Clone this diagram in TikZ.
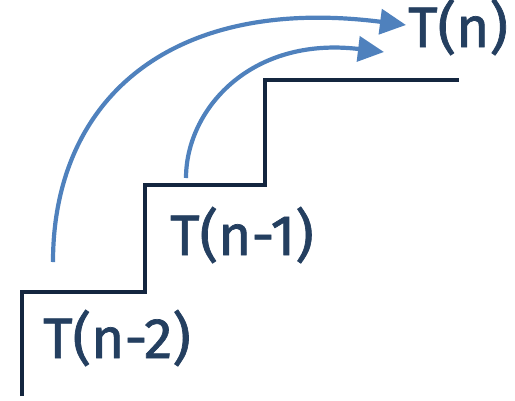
\documentclass[tikz,border=0pt]{standalone}
\usepackage{fontspec}
\setmainfont[FakeBold=1.2]{Fira Sans}
\usetikzlibrary{arrows.meta}
\definecolor{stairc}{HTML}{14263F}
\definecolor{textc}{HTML}{243F60}
\definecolor{arrowc}{HTML}{4F81BD}
\tikzset{
  stairline/.style={draw=stairc,line width=4.5pt,line join=miter,line cap=butt},
  jump/.style={draw=arrowc,line width=4.2pt,-{Triangle[length=26pt,width=25pt]}},
  lbl/.style={text=textc,font=\fontsize{57}{57}\selectfont,inner sep=0pt,anchor=base west}
}
\begin{document}
\begin{tikzpicture}[x=1pt,y=-1pt]
\useasboundingbox (0,0) rectangle (515,400);
\coordinate (s0) at (22,396);
\coordinate (s1) at (22,292);
\coordinate (s2) at (145,292);
\coordinate (s3) at (145,185);
\coordinate (s4) at (265,185);
\coordinate (s5) at (265,80);
\coordinate (s6) at (459,80);
\draw[stairline] (s0) -- (s1) -- (s2) -- (s3) -- (s4) -- (s5) -- (s6);
\coordinate (a0) at (53,262);
\coordinate (a1) at (406,25);
\coordinate (b0) at (186,178);
\coordinate (b1) at (384,52);
\draw[jump] (a0) .. controls (53,100) and (170,-5) .. (a1);
\draw[jump] (b0) .. controls (186,110) and (250,36) .. (b1);
\node[lbl] (tn) at (408,47) {T(n)};
\node[lbl] (tn1) at (170,255) {T(n-1)};
\node[lbl] (tn2) at (43,358) {T(n-2)};
\end{tikzpicture}
\end{document}
